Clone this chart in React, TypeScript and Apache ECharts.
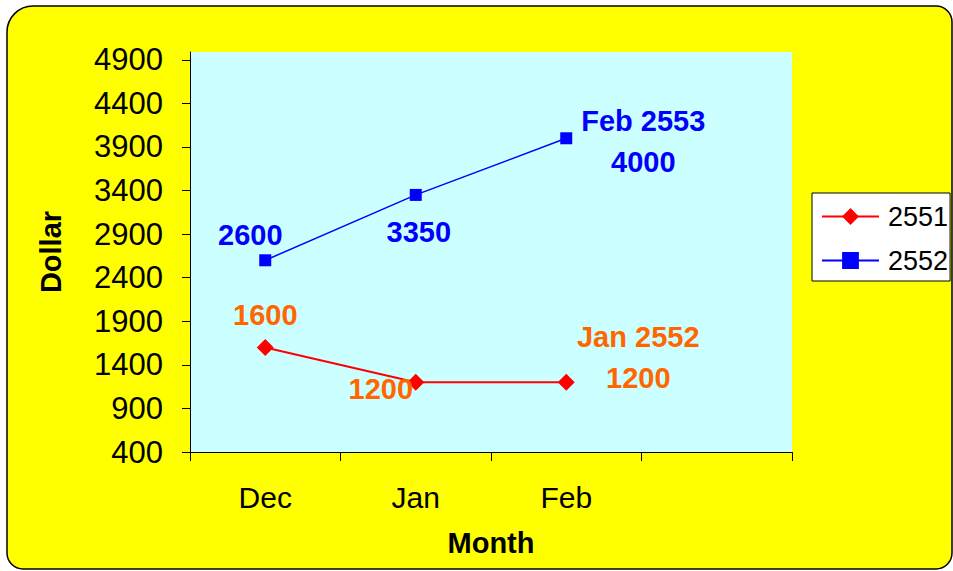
import React, { useEffect, useRef } from "react";
import * as echarts from "echarts";

const months = ["Dec", "Jan", "Feb", ""];
const series2551 = [1600, 1200, 1200];
const series2552 = [2600, 3350, 4000];
const notes2551 = ["", "", "Jan 2552"];
const notes2552 = ["", "", "Feb 2553"];
const yTicks = [400, 900, 1400, 1900, 2400, 2900, 3400, 3900, 4400, 4900];

const offsets2551: [number, number][] = [[0, -32], [-35, 7], [72, -25]];
const offsets2552: [number, number][] = [[-15, -25], [3, 37], [77, 3]];

const FONT = "'Liberation Sans', Arial, sans-serif";

function buildData(vals: number[], notes: string[], offs: [number, number][], color: string) {
  return vals.map((v, i) => ({
    value: v,
    label: {
      show: true,
      position: "inside",
      offset: offs[i],
      align: "center",
      verticalAlign: "middle",
      color,
      fontSize: 29,
      fontWeight: "bold",
      fontFamily: FONT,
      lineHeight: notes[i] ? 41 : 30,
      formatter: () => (notes[i] ? `${notes[i]}\n${v}` : `${v}`),
    },
  }));
}

export default function App() {
  const ref = useRef<HTMLDivElement>(null);
  useEffect(() => {
    if (!ref.current) return;
    const chart = echarts.init(ref.current, undefined, { renderer: "svg" });
    chart.setOption({
      animation: false,
      backgroundColor: "#ffffff",
      graphic: [
        {
          type: "rect",
          z: -10,
          silent: true,
          shape: { x: 7, y: 6, width: 945, height: 563, r: [26, 16, 16, 16] },
          style: { fill: "#FFFF00", stroke: "#000000", lineWidth: 1.5 },
        },
      ],
      grid: {
        left: 190,
        top: 52,
        width: 602,
        height: 400,
        show: true,
        backgroundColor: "#CCFFFF",
        borderWidth: 0,
        containLabel: false,
      },
      legend: {
        orient: "vertical",
        left: 812,
        top: 193,
        width: 137,
        padding: [10, 2, 7, 9],
        itemGap: 17,
        itemWidth: 57,
        itemHeight: 21,
        backgroundColor: "#ffffff",
        borderColor: "#000000",
        borderWidth: 1,
        borderRadius: 0,
        textStyle: {
          fontSize: 27,
          fontFamily: FONT,
          color: "#000000",
          padding: [0, 0, 0, 4],
          lineHeight: 27,
        },
        data: ["2551", "2552"],
      },
      xAxis: {
        type: "category",
        data: months,
        boundaryGap: true,
        name: "Month",
        nameLocation: "middle",
        nameGap: 76,
        nameTextStyle: { fontSize: 29, fontWeight: "bold", fontFamily: FONT, color: "#000" },
        axisLine: { show: true, lineStyle: { color: "#000", width: 1 } },
        axisTick: { show: true, length: 9, lineStyle: { color: "#000" }, interval: 0 },
        axisLabel: { fontSize: 30, fontFamily: FONT, color: "#000", margin: 30, interval: 0 },
        splitLine: { show: false },
      },
      yAxis: {
        type: "value",
        min: 400,
        max: 4990,
        name: "Dollar",
        nameLocation: "middle",
        nameGap: 125,
        nameRotate: 90,
        nameTextStyle: { fontSize: 29, fontWeight: "bold", fontFamily: FONT, color: "#000" },
        axisLine: { show: true, lineStyle: { color: "#000", width: 1 } },
        axisTick: { show: true, length: 8, lineStyle: { color: "#000" }, customValues: yTicks },
        axisLabel: {
          fontSize: 31,
          fontFamily: FONT,
          color: "#000",
          margin: 27,
          customValues: yTicks,
          formatter: (v: number) => String(v),
        },
        splitLine: { show: false },
      },
      series: [
        {
          name: "2551",
          type: "line",
          data: buildData(series2551, notes2551, offsets2551, "#FF6600"),
          symbol: "diamond",
          symbolSize: 17,
          color: "#FF0000",
          itemStyle: { color: "#FF0000" },
          lineStyle: { color: "#FF0000", width: 2 },
        },
        {
          name: "2552",
          type: "line",
          data: buildData(series2552, notes2552, offsets2552, "#0000FF"),
          symbol: "rect",
          symbolSize: 12,
          color: "#0000FF",
          itemStyle: { color: "#0000FF" },
          lineStyle: { color: "#0000FF", width: 1.5 },
        },
      ],
    });
    return () => chart.dispose();
  }, []);
  return (
    <div
      ref={ref}
      style={{ position: "absolute", left: 0, top: 0, width: 953, height: 571 }}
    />
  );
}
